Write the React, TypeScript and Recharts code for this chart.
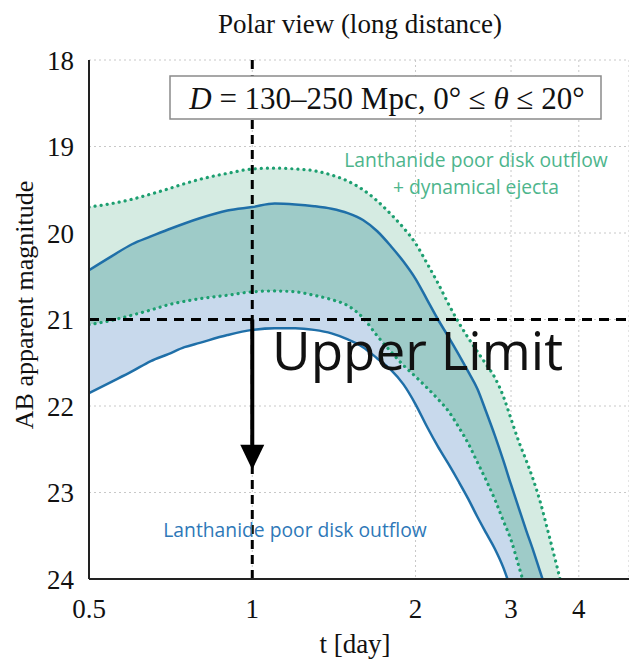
import {
  ComposedChart,
  Area,
  Line,
  Scatter,
  XAxis,
  YAxis,
  CartesianGrid,
  ReferenceLine,
} from 'recharts';

// time grid [day]
const days = [
  0.5, 0.55, 0.6, 0.65, 0.7, 0.75, 0.8, 0.9, 1.0, 1.1, 1.2, 1.3, 1.4, 1.5, 1.6, 1.7, 1.8, 1.9,
  2.0, 2.1, 2.2, 2.3, 2.4, 2.5, 2.6, 2.7, 2.8, 2.9, 3.0, 3.1, 3.2, 3.3, 3.4, 3.5, 3.6, 3.7, 3.8,
];

// disk outflow + dynamical ejecta, bright edge (dotted)
const greenUpper = [
  19.7, 19.66, 19.61, 19.55, 19.49, 19.43, 19.38, 19.31, 19.26, 19.25, 19.26, 19.28, 19.33, 19.4,
  19.5, 19.63, 19.78, 19.94, 20.12, 20.35, 20.58, 20.82, 21.03, 21.21, 21.37, 21.52, 21.67, 21.88,
  22.15, 22.41, 22.63, 22.86, 23.12, 23.42, 23.72, 24.02, 24.35,
];
// disk outflow, bright edge (solid)
const blueUpper = [
  20.43, 20.27, 20.13, 20.04, 19.96, 19.89, 19.83, 19.74, 19.7, 19.66, 19.67, 19.69, 19.72, 19.77,
  19.85, 19.98, 20.15, 20.33, 20.53, 20.77, 21.0, 21.2, 21.4, 21.6, 21.8, 22.07, 22.34, 22.62,
  22.91, 23.18, 23.44, 23.68, 23.93, 24.17, 24.42, 24.67, 24.92,
];
// disk outflow + dynamical ejecta, faint edge (dotted)
const greenLower = [
  21.06, 21.01, 20.95, 20.89, 20.83, 20.79, 20.76, 20.72, 20.68, 20.67, 20.68, 20.72, 20.77, 20.84,
  20.98, 21.19, 21.37, 21.53, 21.66, 21.79, 21.92, 22.06, 22.24, 22.43, 22.65, 22.86, 23.08, 23.32,
  23.55, 23.85, 24.15, 24.45, 24.75, 25.05, 25.35, 25.65, 25.95,
];
// disk outflow, faint edge (solid)
const blueLower = [
  21.85, 21.72, 21.6, 21.48, 21.4, 21.32, 21.27, 21.18, 21.12, 21.1, 21.1, 21.12, 21.16, 21.23,
  21.32, 21.45, 21.58, 21.75, 21.98, 22.24, 22.47, 22.67, 22.87, 23.07, 23.28, 23.47, 23.65, 23.86,
  24.12, 24.38, 24.64, 24.9, 25.16, 25.42, 25.68, 25.94, 26.2,
];

const xTicks = [0.5, 1, 2, 3, 4];
const yTicks = [18, 19, 20, 21, 22, 23, 24];
const upperLimit = 21;
const arrowEnd = 22.47;

const data = days.map((t, i) => ({
  t,
  gu: greenUpper[i],
  bu: blueUpper[i],
  gl: greenLower[i],
  bl: blueLower[i],
}));

const arrowHead = [{ t: 1, m: arrowEnd }];

const serif = '"Liberation Serif", "DejaVu Serif", serif';
const sans = '"Open Sans", "Noto Sans", sans-serif';

const blue = '#1f6fa8';
const green = '#1c9f70';

const Triangle = (props: any) => {
  const { cx, cy } = props;
  return <polygon points={`${cx - 12},${cy - 2} ${cx + 12},${cy - 2} ${cx},${cy + 23}`} fill="#000" />;
};

export default function App() {
  return (
    <div style={{ position: 'absolute', left: 0, top: 0, width: 629, height: 670, background: '#fff' }}>
      <ComposedChart
        width={629}
        height={670}
        data={data}
        margin={{ top: 60, right: 0, bottom: 0, left: 0 }}
      >
        <CartesianGrid stroke="#c8c8c8" strokeDasharray="2 3" strokeWidth={1} />
        <XAxis
          dataKey="t"
          type="number"
          scale="log"
          domain={[0.5, 4.95]}
          ticks={xTicks}
          allowDataOverflow
          height={91}
          tickSize={8}
          tickMargin={12}
          tickLine={false}
          axisLine={{ stroke: '#222', strokeWidth: 2 }}
          tick={{ fontFamily: serif, fontSize: 27, fill: '#111' }}
        />
        <XAxis
          xAxisId="top"
          dataKey="t"
          type="number"
          scale="log"
          domain={[0.5, 4.95]}
          ticks={xTicks}
          allowDataOverflow
          orientation="top"
          height={0}
          mirror
          tickSize={8}
          tick={false}
          stroke="#222"
          axisLine={{ stroke: '#222', strokeWidth: 1.5 }}
        />
        <XAxis
          xAxisId="inner"
          dataKey="t"
          type="number"
          scale="log"
          domain={[0.5, 4.95]}
          ticks={xTicks}
          allowDataOverflow
          orientation="bottom"
          height={0}
          mirror
          tickSize={8}
          tick={false}
          stroke="#444"
          axisLine={false}
        />
        <YAxis
          type="number"
          domain={[18, 24]}
          reversed
          ticks={yTicks}
          allowDataOverflow
          width={89}
          tickSize={6}
          tickMargin={9}
          tickLine={false}
          axisLine={{ stroke: '#222', strokeWidth: 2 }}
          tick={{ fontFamily: serif, fontSize: 27, fill: '#111' }}
        />
        <YAxis
          yAxisId="inner"
          type="number"
          domain={[18, 24]}
          reversed
          ticks={yTicks}
          orientation="left"
          width={0}
          mirror
          tickSize={8}
          tick={false}
          stroke="#444"
          axisLine={false}
        />
        <YAxis
          yAxisId="right"
          type="number"
          domain={[18, 24]}
          reversed
          ticks={yTicks}
          orientation="right"
          width={0}
          mirror
          tickSize={8}
          tick={false}
          stroke="#444"
          axisLine={{ stroke: '#222', strokeWidth: 1.5 }}
        />

        <Area
          dataKey={(d: any) => [d.gu, d.bu]}
          type="monotone"
          stroke="none"
          fill="#d5ebe2"
          fillOpacity={1}
          isAnimationActive={false}
        />
        <Area
          dataKey={(d: any) => [d.bu, d.gl]}
          type="monotone"
          stroke="none"
          fill="#9ecbc8"
          fillOpacity={1}
          isAnimationActive={false}
        />
        <Area
          dataKey={(d: any) => [d.gl, d.bl]}
          type="monotone"
          stroke="none"
          fill="#c8d9ec"
          fillOpacity={1}
          isAnimationActive={false}
        />

        <Line dataKey="bu" type="monotone" stroke={blue} strokeWidth={2.5} dot={false} isAnimationActive={false} />
        <Line dataKey="bl" type="monotone" stroke={blue} strokeWidth={2.5} dot={false} isAnimationActive={false} />
        <Line
          dataKey="gu"
          type="monotone"
          stroke={green}
          strokeWidth={3.2}
          strokeDasharray="0.1 6"
          strokeLinecap="round"
          dot={false}
          isAnimationActive={false}
        />
        <Line
          dataKey="gl"
          type="monotone"
          stroke={green}
          strokeWidth={3.2}
          strokeDasharray="0.1 6"
          strokeLinecap="round"
          dot={false}
          isAnimationActive={false}
        />

        <ReferenceLine x={1} stroke="#000" strokeWidth={3} strokeDasharray="9 6" />
        <ReferenceLine y={upperLimit} stroke="#000" strokeWidth={3} strokeDasharray="10 7" />
        <ReferenceLine
          segment={[
            { x: 1, y: upperLimit },
            { x: 1, y: arrowEnd },
          ]}
          stroke="#000"
          strokeWidth={4}
        />
        <Scatter data={arrowHead} dataKey="m" shape={<Triangle />} isAnimationActive={false} />
      </ComposedChart>

      {/* annotations drawn on top of the plot */}
      <svg
        width={629}
        height={670}
        style={{ position: 'absolute', left: 0, top: 0, pointerEvents: 'none' }}
      >
        <text x={360} y={33} textAnchor="middle" fontFamily={serif} fontSize={27} fill="#111">
          Polar view (long distance)
        </text>
        <text x={355} y={653} textAnchor="middle" fontFamily={serif} fontSize={27} fill="#111">
          t [day]
        </text>
        <text
          x={33}
          y={305}
          textAnchor="middle"
          transform="rotate(-90 33 305)"
          fontFamily={serif}
          fontSize={26}
          fill="#111"
        >
          AB apparent magnitude
        </text>

        <rect x={170} y={76} width={431} height={43} fill="#fff" stroke="#8a8a8a" strokeWidth={1.5} />
        <text x={387} y={109} textAnchor="middle" fontFamily={serif} fontSize={31} fill="#111">
          <tspan fontStyle="italic">D</tspan>
          <tspan> = 130–250 Mpc, 0° ≤ </tspan>
          <tspan fontStyle="italic">θ</tspan>
          <tspan> ≤ 20°</tspan>
        </text>

        <text x={476} y={167} textAnchor="middle" fontFamily={sans} fontSize={19.3} fill="#4db58c">
          Lanthanide poor disk outflow
        </text>
        <text x={476} y={194} textAnchor="middle" fontFamily={sans} fontSize={19.3} fill="#4db58c">
          + dynamical ejecta
        </text>
        <text x={295} y={537} textAnchor="middle" fontFamily={sans} fontSize={19.3} fill="#2e78b8">
          Lanthanide poor disk outflow
        </text>
        <text x={272} y={370} fontFamily={sans} fontSize={53} fill="#111">
          Upper Limit
        </text>
      </svg>
    </div>
  );
}
